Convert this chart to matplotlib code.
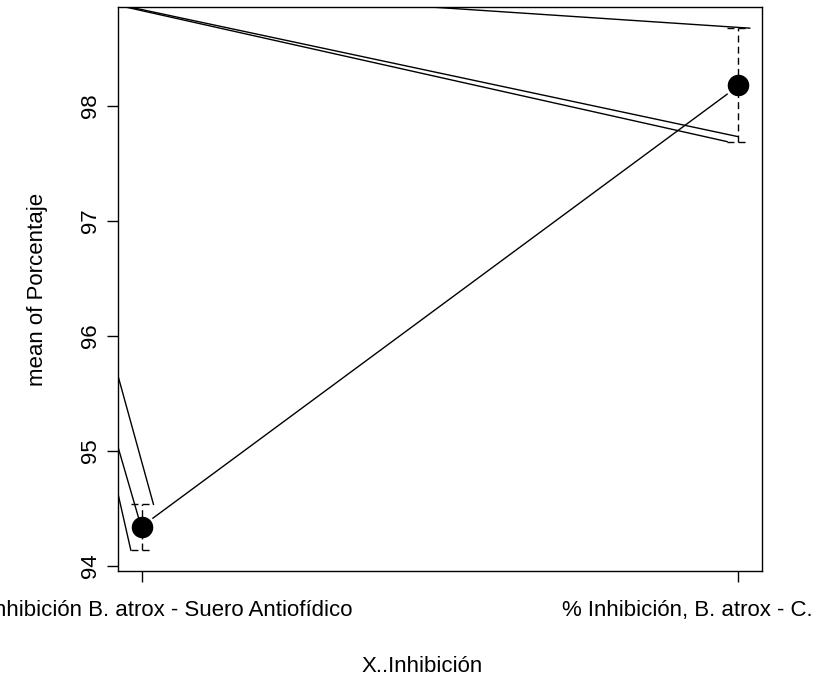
import numpy as np
import matplotlib
matplotlib.use("Agg")
import matplotlib.pyplot as plt
from matplotlib.transforms import ScaledTranslation

plt.rcParams['font.family'] = ['Liberation Sans', 'DejaVu Sans']

# groups and their means with confidence limits
groups = ["% Inhibición B. atrox - Suero Antiofídico", "% Inhibición, B. atrox - C."]
means = [94.34, 98.18]
ci_low = [94.14, 97.683]
ci_high = [94.54, 98.676]

# stray line segments that appear in the original plot (data units)
seg_x0 = [0.9443, 0.9384, 1.321, 1.0185, 0.9423, 0.9423, 0.9426]
seg_y0 = [98.899, 98.8995, 98.916, 94.417, 95.987, 95.352, 95.026]
seg_x1 = [2.0, 1.9815, 2.0195, 1.9815, 1.0195, 1.0, 0.9815]
seg_y1 = [97.733, 97.69, 98.676, 98.102, 94.537, 94.322, 94.139]

yticks = [94, 95, 96, 97, 98]
cap = 0.019
fs = 16

fig = plt.figure(figsize=(8.16, 6.78), dpi=100)
ax = fig.add_axes([118 / 816, 1 - 571 / 678, 644 / 816, 564 / 678])

x = np.arange(1, len(groups) + 1)

for x0, y0, x1, y1 in zip(seg_x0, seg_y0, seg_x1, seg_y1):
    ax.plot([x0, x1], [y0, y1], color='black', lw=1)

# error bars (dashed)
for xi, lo, hi in zip(x, ci_low, ci_high):
    ax.plot([xi, xi], [lo, hi], color='black', lw=1, dashes=(5, 3))
    ax.plot([xi - cap, xi + cap], [lo, lo], color='black', lw=1, dashes=(5, 3))
    ax.plot([xi - cap, xi + cap], [hi, hi], color='black', lw=1, dashes=(5, 3))

ax.plot(x, means, 'o', color='black', ms=14.5, linestyle='none', zorder=5)

ax.set_xlim(0.96, 2.04)
ax.set_ylim(93.958, 98.86)

ax.set_yticks(yticks)
ax.set_yticklabels([str(v) for v in yticks], rotation=90, va='center')
ax.set_xticks(x)
ax.set_xticklabels(groups)

ax.tick_params(axis='both', length=8, width=1, labelsize=fs, color='black')
ax.tick_params(axis='y', pad=4)
ax.tick_params(axis='x', pad=13)

# both long labels run off the figure edges like the original
lab0, lab1 = ax.get_xticklabels()
lab0.set_ha('right')
lab0.set_transform(lab0.get_transform() + ScaledTranslation(2.11, 0, fig.dpi_scale_trans))
lab1.set_ha('right')
lab1.set_transform(lab1.get_transform() + ScaledTranslation(0.745, 0, fig.dpi_scale_trans))

for s in ax.spines.values():
    s.set_linewidth(1)

fig.text(422 / 816, 1 - 667 / 678, "X..Inhibición", ha='center', va='center', fontsize=fs)
fig.text(38 / 816, 1 - 289 / 678, "mean of Porcentaje", ha='center', va='center',
         rotation=90, fontsize=fs)

fig.savefig("out.png", dpi=100)
